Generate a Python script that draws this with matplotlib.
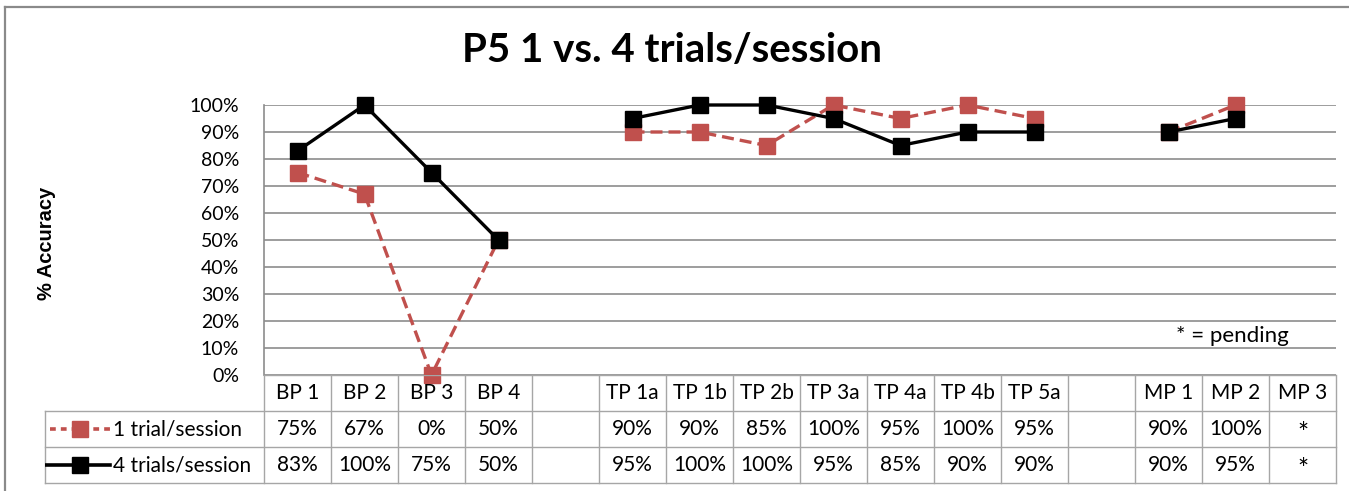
import numpy as np
import matplotlib
matplotlib.use("Agg")
import matplotlib.pyplot as plt
from matplotlib.lines import Line2D

# data
cats = ["BP 1", "BP 2", "BP 3", "BP 4", "",
        "TP 1a", "TP 1b", "TP 2b", "TP 3a", "TP 4a", "TP 4b", "TP 5a", "",
        "MP 1", "MP 2", "MP 3"]
one_trial = [75, 67, 0, 50, np.nan, 90, 90, 85, 100, 95, 100, 95, np.nan, 90, 100, np.nan]
four_trials = [83, 100, 75, 50, np.nan, 95, 100, 100, 95, 85, 90, 90, np.nan, 90, 95, np.nan]
one_txt = ["75%", "67%", "0%", "50%", "", "90%", "90%", "85%", "100%", "95%", "100%", "95%",
           "", "90%", "100%", "*"]
four_txt = ["83%", "100%", "75%", "50%", "", "95%", "100%", "100%", "95%", "85%", "90%", "90%",
            "", "90%", "95%", "*"]
series_names = ["1 trial/session", "4 trials/session"]

RED = "#C0504D"
GRID = "#8C8C8C"
plt.rcParams['font.family'] = ['Lato', 'DejaVu Sans']

W, H = 1349, 491
fig = plt.figure(figsize=(W / 100, H / 100), dpi=100)


def box(x0, y0, x1, y1):
    return [x0 / W, 1 - y1 / H, (x1 - x0) / W, (y1 - y0) / H]


# outer chart frame (right/bottom are cut off in the picture)
fig.add_artist(Line2D([5 / W, 5 / W], [0, 1 - 7 / H], color="#8A8A8A", lw=1.6))
fig.add_artist(Line2D([5 / W, 1], [1 - 7 / H, 1 - 7 / H], color="#8A8A8A", lw=1.6))

fig.text(0.498, 1 - 51 / H, "P5 1 vs. 4 trials/session", ha="center", va="center",
         fontsize=29, fontweight="bold")

n = len(cats)
x = np.arange(n)
ax = fig.add_axes(box(264, 105, 1336, 375))
ax.set_xlim(-0.5, n - 0.5)
ax.set_ylim(0, 1)
ax.set_yticks(np.arange(0, 1.01, 0.1))
ax.set_yticklabels([f"{int(round(v * 100))}%" for v in np.arange(0, 1.01, 0.1)], fontsize=14)
ax.tick_params(axis="y", length=0, pad=18)
ax.set_xticks([])
for s in ["top", "right", "bottom"]:
    ax.spines[s].set_visible(False)
ax.spines["left"].set_color(GRID)
ax.spines["left"].set_linewidth(1.2)
ax.grid(axis="y", color=GRID, lw=1.2)
ax.set_axisbelow(True)

y1 = np.array(one_trial) / 100
y4 = np.array(four_trials) / 100
ax.plot(x, y1, color=RED, lw=2.4, dashes=(3.6, 1.8), marker="s", ms=12,
        mfc=RED, mec=RED, clip_on=False, zorder=3)
ax.plot(x, y4, color="black", lw=2.4, marker="s", ms=12,
        mfc="black", mec="black", clip_on=False, zorder=4)

ax.text(13.95, 0.145, "* = pending", ha="center", va="center", fontsize=16)

fig.text(47 / W, 1 - 243 / H, "% Accuracy", rotation=90, ha="center", va="center",
         fontsize=14.5, fontweight="bold", family="Liberation Sans")

# data table under the plot
colw = 1072 / n
left = -0.5 - (264 - 45) / colw
tab = fig.add_axes(box(45, 375, 1336, 483))
tab.set_xlim(left, n - 0.5)
tab.set_ylim(3, 0)
tab.axis("off")
lc = "#A6A6A6"
tab.plot([-0.5, n - 0.5], [0, 0], color=lc, lw=1)
for r in [1, 2, 3]:
    tab.plot([left, n - 0.5], [r, r], color=lc, lw=1, clip_on=False)
for b in np.arange(-0.5, n, 1.0):
    tab.plot([b, b], [0, 3], color=lc, lw=1, clip_on=False)
tab.plot([left, left], [1, 3], color=lc, lw=1, clip_on=False)

fs = 15
for i, c in enumerate(cats):
    tab.text(i, 0.5, c, ha="center", va="center", fontsize=fs)
    for row, txt in ((1.5, one_txt[i]), (2.5, four_txt[i])):
        if txt == "*":
            # the asterisk sits high in the font, nudge it to mid-row
            tab.text(i, row + 0.14, txt, ha="center", va="center", fontsize=19)
        else:
            tab.text(i, row, txt, ha="center", va="center", fontsize=fs)


def px(p):
    return -0.5 + (p - 264) / colw


tab.plot([px(50), px(110)], [1.5, 1.5], color=RED, lw=2.6, dashes=(1.6, 1.4))
tab.plot([px(80)], [1.5], marker="s", ms=11, color=RED)
tab.plot([px(45), px(110)], [2.5, 2.5], color="black", lw=2.6)
tab.plot([px(80)], [2.5], marker="s", ms=11, color="black")
tab.text(px(113), 1.5, series_names[0], ha="left", va="center", fontsize=fs)
tab.text(px(113), 2.5, series_names[1], ha="left", va="center", fontsize=fs)

fig.savefig("out.png", dpi=100)
